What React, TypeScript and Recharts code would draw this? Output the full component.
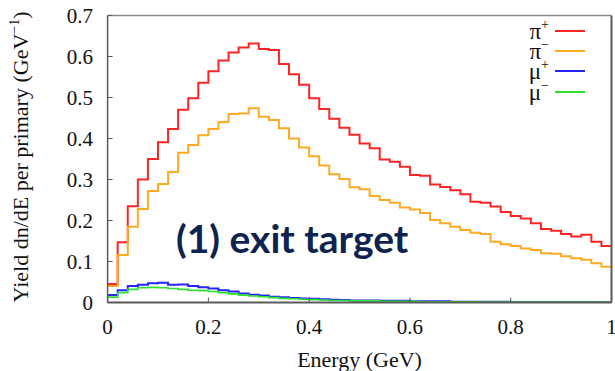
import { LineChart, Line, XAxis, YAxis, Legend, Customized } from "recharts";

// lower edge of each 0.02 GeV bin
const binLow = [
  0, 0.02, 0.04, 0.06, 0.08, 0.1, 0.12, 0.14, 0.16, 0.18,
  0.2, 0.22, 0.24, 0.26, 0.28, 0.3, 0.32, 0.34, 0.36, 0.38,
  0.4, 0.42, 0.44, 0.46, 0.48, 0.5, 0.52, 0.54, 0.56, 0.58,
  0.6, 0.62, 0.64, 0.66, 0.68, 0.7, 0.72, 0.74, 0.76, 0.78,
  0.8, 0.82, 0.84, 0.86, 0.88, 0.9, 0.92, 0.94, 0.96, 0.98,
];
const lastEdge = 1;

const piPlus = [
  0.045, 0.147, 0.235, 0.3, 0.35, 0.391, 0.423, 0.47, 0.498, 0.536,
  0.564, 0.59, 0.61, 0.622, 0.632, 0.618, 0.616, 0.582, 0.557, 0.531,
  0.498, 0.472, 0.448, 0.426, 0.409, 0.388, 0.376, 0.349, 0.343, 0.331,
  0.311, 0.309, 0.288, 0.282, 0.274, 0.264, 0.246, 0.243, 0.234, 0.221,
  0.211, 0.205, 0.193, 0.179, 0.175, 0.167, 0.161, 0.165, 0.148, 0.138,
];
const piMinus = [
  0.04, 0.116, 0.185, 0.228, 0.272, 0.289, 0.318, 0.365, 0.384, 0.408,
  0.423, 0.44, 0.46, 0.461, 0.474, 0.453, 0.445, 0.425, 0.4, 0.378,
  0.357, 0.334, 0.313, 0.301, 0.281, 0.276, 0.26, 0.25, 0.243, 0.232,
  0.227, 0.218, 0.201, 0.193, 0.185, 0.177, 0.17, 0.167, 0.148, 0.142,
  0.138, 0.132, 0.128, 0.12, 0.119, 0.113, 0.108, 0.104, 0.096, 0.087,
];
const muPlus = [
  0.018, 0.03, 0.04, 0.043, 0.047, 0.048, 0.043, 0.044, 0.04, 0.037,
  0.034, 0.03, 0.027, 0.022, 0.019, 0.017, 0.014, 0.013, 0.011, 0.01,
  0.009, 0.008, 0.007, 0.006, 0.005, 0.005, 0.005, 0.004, 0.004, 0.004,
  0.003, 0.003, 0.003, 0.003, 0.002, 0.002, 0.002, 0.002, 0.002, 0.002,
  0.001, 0.001, 0.001, 0.001, 0.001, 0.001, 0.001, 0.001, 0.001, 0.001,
];
const muMinus = [
  0.013, 0.024, 0.032, 0.036, 0.037, 0.036, 0.034, 0.032, 0.03, 0.029,
  0.027, 0.024, 0.021, 0.018, 0.016, 0.014, 0.012, 0.01, 0.009, 0.008,
  0.007, 0.006, 0.005, 0.005, 0.004, 0.004, 0.004, 0.003, 0.003, 0.003,
  0.003, 0.002, 0.002, 0.002, 0.002, 0.002, 0.002, 0.001, 0.001, 0.001,
  0.001, 0.001, 0.001, 0.001, 0.001, 0.001, 0.001, 0.001, 0.001, 0.001,
];

const xTicks = [0, 0.2, 0.4, 0.6, 0.8, 1];
const yTicks = [0, 0.1, 0.2, 0.3, 0.4, 0.5, 0.6, 0.7];

const series = [
  { key: "piPlus", base: "π", sup: "+", color: "#ff2424", values: piPlus, width: 2 },
  { key: "piMinus", base: "π", sup: "−", color: "#ffaa22", values: piMinus, width: 2 },
  { key: "muPlus", base: "μ", sup: "+", color: "#2525ff", values: muPlus, width: 2 },
  { key: "muMinus", base: "μ", sup: "−", color: "#2ee02e", values: muMinus, width: 1.6 },
];

// histogram steps: one row per bin edge, last edge repeats the final bin
const data = [...binLow, lastEdge].map((e, i) => {
  const j = Math.min(i, binLow.length - 1);
  const row: Record<string, number> = { energy: e };
  series.forEach((s) => (row[s.key] = s.values[j]));
  return row;
});

const serif = "Liberation Serif";
const frame = "#5a5a5a";

function renderLegend() {
  return (
    <div>
      {series.map((s) => (
        <div
          key={s.key}
          style={{
            display: "flex",
            alignItems: "center",
            justifyContent: "flex-end",
            height: 20.3,
          }}
        >
          <span
            style={{
              fontFamily: serif,
              fontSize: 23,
              lineHeight: "20px",
              color: "#111",
              position: "relative",
              top: 2.5,
            }}
          >
            {s.base}
            <span style={{ fontSize: 14, position: "relative", top: -10 }}>
              {s.sup}
            </span>
          </span>
          <div
            style={{
              width: 30,
              height: 2,
              background: s.color,
              marginLeft: 6,
            }}
          />
        </div>
      ))}
    </div>
  );
}

function renderYLabel() {
  return (
    <text
      x={28}
      y={157}
      transform="rotate(-90 28 157)"
      textAnchor="middle"
      fontFamily={serif}
      fontSize={22}
      fill="#111"
    >
      Yield dn/dE per primary (GeV
      <tspan dy={-9} fontSize={14}>
        −1
      </tspan>
      <tspan dy={9}>)</tspan>
    </text>
  );
}

function Annotation() {
  return (
    <text
      x={176}
      y={253}
      fontFamily="Lato"
      fontWeight={700}
      fontSize={39}
      fill="#0e2350"
    >
      (1) exit target
    </text>
  );
}

export default function App() {
  return (
    <div style={{ position: "absolute", left: 0, top: 0, background: "#fff" }}>
      <LineChart
        width={615}
        height={371}
        data={data}
        margin={{ top: 14.5, right: 0, left: 0, bottom: 0 }}
      >
        <XAxis
          xAxisId="b"
          type="number"
          dataKey="energy"
          domain={[0, 1]}
          ticks={xTicks}
          interval={0}
          height={68.5}
          tickSize={-5}
          tickMargin={21.5}
          axisLine={{ stroke: frame, strokeWidth: 2 }}
          tickLine={{ stroke: frame }}
          tick={{ fill: "#111", fontSize: 21, fontFamily: serif }}
          label={{
            value: "Energy (GeV)",
            position: "insideBottom",
            offset: 4,
            fill: "#111",
            fontSize: 22,
            fontFamily: serif,
          }}
        />
        <XAxis
          xAxisId="t"
          orientation="top"
          type="number"
          dataKey="energy"
          domain={[0, 1]}
          ticks={xTicks}
          interval={0}
          height={1}
          tickSize={-5}
          tick={false}
          axisLine={{ stroke: "#8a8a8a", strokeWidth: 1.5 }}
          tickLine={{ stroke: frame }}
        />
        <YAxis
          yAxisId="l"
          type="number"
          domain={[0, 0.7]}
          ticks={yTicks}
          interval={0}
          width={107.6}
          tickSize={-5}
          tickMargin={19.6}
          axisLine={{ stroke: frame, strokeWidth: 1.5 }}
          tickLine={{ stroke: frame }}
          tick={{ fill: "#111", fontSize: 21, fontFamily: serif }}
          label={{ content: renderYLabel }}
        />
        <YAxis
          yAxisId="r"
          orientation="right"
          type="number"
          domain={[0, 0.7]}
          ticks={yTicks}
          interval={0}
          width={3.5}
          tickSize={-5}
          tick={false}
          axisLine={{ stroke: frame, strokeWidth: 2 }}
          tickLine={{ stroke: frame }}
        />
        {series.map((s) => (
          <Line
            key={s.key}
            xAxisId="b"
            yAxisId="l"
            type="stepAfter"
            dataKey={s.key}
            stroke={s.color}
            strokeWidth={s.width}
            dot={false}
            isAnimationActive={false}
          />
        ))}
        <Legend
          layout="vertical"
          align="center"
          verticalAlign="middle"
          content={renderLegend}
          wrapperStyle={{ position: "absolute", top: 20.5, left: 465, width: 120 }}
        />
        <Customized component={Annotation} />
      </LineChart>
    </div>
  );
}
